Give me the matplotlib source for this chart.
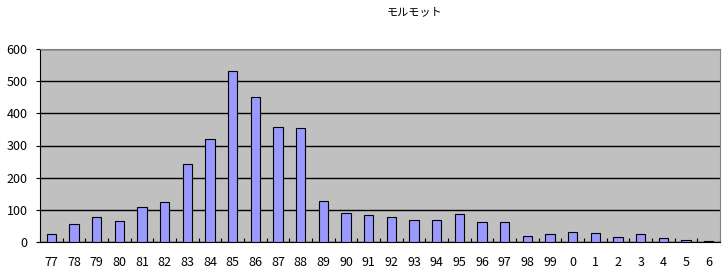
import matplotlib.pyplot as plt
import numpy as np

plt.rcParams['font.family'] = ['Noto Sans CJK JP', 'DejaVu Sans']

# data
years = ['77', '78', '79', '80', '81', '82', '83', '84', '85', '86',
         '87', '88', '89', '90', '91', '92', '93', '94', '95', '96',
         '97', '98', '99', '0', '1', '2', '3', '4', '5', '6']
counts = [24, 56, 78, 65, 109, 125, 243, 321, 532, 450,
          357, 354, 127, 89, 83, 77, 67, 67, 87, 61,
          61, 18, 25, 30, 28, 16, 25, 12, 6, 3]
yticks = [0, 100, 200, 300, 400, 500, 600]

W, H = 727, 274
fig = plt.figure(figsize=(W / 100, H / 100), dpi=100)
ax = fig.add_axes([40 / W, 1 - 242 / H, 680 / W, 193 / H])
ax.set_facecolor('#C0C0C0')

x = np.arange(len(years))
ax.bar(x, counts, width=0.4, color='#9999FF', edgecolor='black', linewidth=0.8, zorder=3)

ax.set_xlim(-0.5, len(years) - 0.5)
ax.set_ylim(0, 600)
ax.set_yticks(yticks)
ax.yaxis.grid(True, color='black', linewidth=1.0, zorder=1)
ax.set_axisbelow(True)

ax.set_xticks(x)
ax.set_xticklabels(years, fontsize=9)
ax.set_xticks(np.arange(len(years) + 1) - 0.5, minor=True)
ax.tick_params(axis='x', which='major', length=0, pad=10)
ax.tick_params(axis='x', which='minor', length=3, direction='in', width=0.8)
ax.tick_params(axis='y', length=3, direction='out', labelsize=9, pad=6)

for side in ['top', 'right']:
    ax.spines[side].set_color('#808080')
ax.spines['left'].set_color('black')
ax.spines['bottom'].set_color('black')

fig.text(415 / W, 1 - 12 / H, 'モルモット', fontsize=8, ha='center', va='center')

fig.savefig('out.png', dpi=100)
